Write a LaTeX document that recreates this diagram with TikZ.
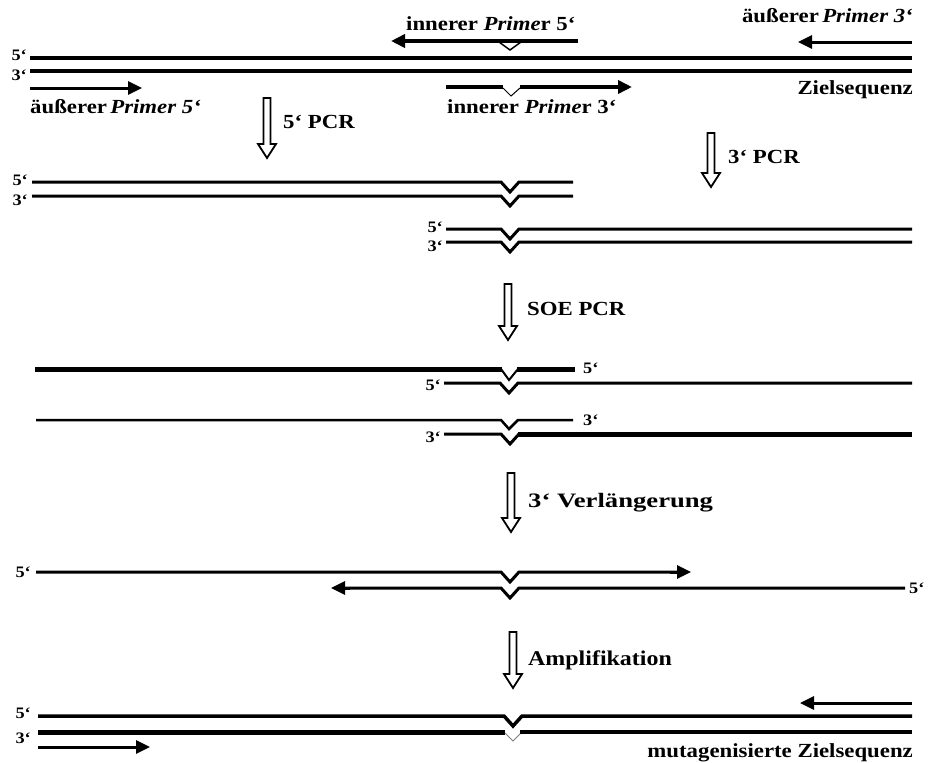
\documentclass[tikz,border=0pt]{standalone}
\usepackage{fontspec}
\setmainfont{Liberation Serif}[FakeStretch=1.14]
\newfontfamily\widefont{Liberation Serif}[FakeStretch=1.3]
\usetikzlibrary{arrows.meta}
\newcommand\procarr[4]{% name, x, ytop, ytip
  \draw[procstyle] ({#2-3.5},#3) -- ({#2-3.5},{#4-14}) -- ({#2-9},{#4-14}) -- (#2,#4)
    -- ({#2+9},{#4-14}) -- ({#2+3.5},{#4-14}) -- ({#2+3.5},#3) -- cycle;
  \coordinate (#1) at (#2,#3);}
\begin{document}
\begin{tikzpicture}[x=1pt,y=-1pt,
  strand/.style={line width=3pt,line join=miter},
  thickstrand/.style={line width=5pt},
  vnotch/.style={line width=2pt},
  prim/.style={line width=3pt,-{Triangle[length=14pt,width=13pt]}},
  procstyle/.style={line width=1.8pt,fill=white,line join=miter},
  lbl/.style={font=\fontsize{20}{22}\selectfont\bfseries,inner sep=0pt},
  endl/.style={font=\fontsize{16}{17}\selectfont\bfseries,inner sep=0pt}]
\fill[white] (0,0) rectangle (930,763);
\path[use as bounding box] (0,0) rectangle (930,763);

% ---------- Row 1: target sequence with primers
\draw[line width=3.5pt] (30,58) -- (912,58);
\draw[line width=4.5pt] (30,71) -- (912,71);
\node[endl,anchor=east] (r1a) at (27,55) {5‘};
\node[endl,anchor=east] (r1b) at (27,75) {3‘};
\draw[prim] (30,88) -- (142,88);
\node[lbl,anchor=base west] (aP5) at (30,113) {äußerer\,\textit{Primer 5‘}};
\draw[prim,line width=3.5pt] (578,41) -- (391,41);
\draw[line width=1.5pt] (499,42) -- (510,50) -- (521,42);
\node[lbl,anchor=base west] (iP5) at (406,30) {innerer \textit{Prime}r 5‘};
\draw[line width=4pt] (446,87) -- (503,87);
\draw[line width=1pt] (503,88) -- (511,96) -- (520,88);
\draw[prim,line width=4pt] (520,87) -- (632,87);
\node[lbl,anchor=base west] (iP3) at (447,113) {innerer \textit{Prime}r 3‘};
\draw[prim] (912,42) -- (798,42);
\node[lbl,anchor=base east] (aP3) at (913,22) {äußerer\,\textit{Primer 3‘}};
\node[lbl,anchor=base east] (ziel) at (913,94) {Zielsequenz};

% ---------- process arrows
\procarr{pa1}{267}{98}{158}
\node[lbl,anchor=base west] (t1) at (283,128) {5‘ PCR};
\procarr{pa2}{711}{133}{187}
\node[lbl,anchor=base west] (t2) at (728,163) {3‘ PCR};

% ---------- Row 2: PCR products
\draw[strand] (32,182) -- (501,182) -- (510,192) -- (519,182) -- (573,182);
\draw[strand] (32,196) -- (501,196) -- (510,206) -- (519,196) -- (573,196);
\node[endl,anchor=east] (r2a) at (28,180) {5‘};
\node[endl,anchor=east] (r2b) at (28,200) {3‘};
\draw[strand] (446,229) -- (501,229) -- (510,239) -- (519,229) -- (912,229);
\draw[strand] (446,242) -- (501,242) -- (510,252) -- (519,242) -- (912,242);
\node[endl,anchor=east] (r2c) at (443,227) {5‘};
\node[endl,anchor=east] (r2d) at (443,246) {3‘};

\procarr{pa3}{508}{284}{340}
\node[lbl,anchor=base west] (t3) at (527,315) {SOE PCR};

% ---------- Row 3: overlap
\draw[thickstrand] (35,369) -- (502,369);
\draw[vnotch] (501,369) -- (509,380) -- (518,369);
\draw[thickstrand] (517,369) -- (575,369);
\node[endl,anchor=west] (r3a) at (583,368) {5‘};
\draw[strand] (444,383) -- (500,383) -- (509,393) -- (518,383) -- (912,383);
\node[endl,anchor=east] (r3b) at (441,385) {5‘};
\draw[line width=2.5pt] (36,420) -- (501,420) -- (509,429) -- (518,420) -- (573,420);
\node[endl,anchor=west] (r3c) at (583,420) {3‘};
\draw[strand] (444,434) -- (501,434) -- (510,444) -- (519,434);
\draw[thickstrand] (518,434) -- (912,434);
\node[endl,anchor=east] (r3d) at (441,437) {3‘};

\procarr{pa4}{511}{473}{532}
\node[lbl,anchor=base west,font=\fontsize{20.5}{23}\widefont\bfseries] (t4) at (528,507) {3‘ Verlängerung};

% ---------- Row 4: extension
\draw[strand] (36,572) -- (501,572) -- (510,582) -- (519,572) -- (678,572);
\draw[prim] (670,572) -- (691,572);
\node[endl,anchor=east] (r4a) at (31,572) {5‘};
\draw[strand] (905,588) -- (519,588) -- (510,598) -- (501,588) -- (345,588);
\draw[prim] (350,588) -- (331,588);
\node[endl,anchor=west] (r4b) at (909,588) {5‘};

\procarr{pa5}{513}{632}{688}
\node[lbl,anchor=base west,font=\fontsize{21}{23}\selectfont\bfseries] (t5) at (528,665) {Amplifikation};

% ---------- Row 5: mutated target
\draw[line width=3.5pt] (38,716) -- (504,716) -- (513,726) -- (522,716) -- (912,716);
\draw[line width=5pt] (38,732) -- (505,732);
\draw[line width=0.8pt,gray] (505,733) -- (513,741) -- (521,733);
\draw[line width=4pt] (520,732) -- (912,732);
\node[endl,anchor=east] (r5a) at (31,713) {5‘};
\node[endl,anchor=east] (r5b) at (31,738) {3‘};
\draw[prim] (912,703) -- (800,703);
\draw[prim] (38,747) -- (150,747);
\node[lbl,anchor=base east] (mut) at (913,757) {mutagenisierte Zielsequenz};
\end{tikzpicture}
\end{document}
